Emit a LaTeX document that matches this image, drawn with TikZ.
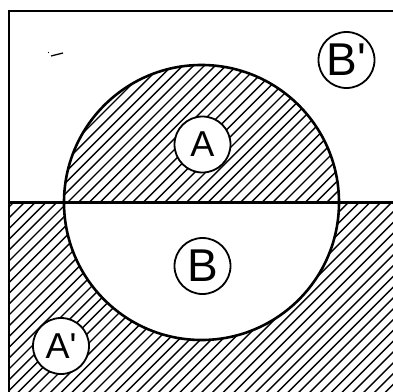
\documentclass[tikz,border=0pt]{standalone}
\usepackage{fontspec}
\newfontfamily\labfont{Liberation Sans}
\begin{document}
\begin{tikzpicture}[x=1pt,y=-1pt,
  frame/.style={line width=2.6pt},
  hatchline/.style={line width=1.4pt},
  lab/.style={circle,draw,line width=1.8pt,fill=white,minimum size=56pt,inner sep=0pt},
  smallfont/.style={font=\labfont\fontsize{36}{36}\selectfont},
  bigfont/.style={font=\labfont\fontsize{46}{46}\selectfont},
]
\useasboundingbox (0,0) rectangle (393,391);
\clip (0,0) rectangle (393,391);
\fill[white] (0,0) rectangle (393,391);
% hatched regions: upper half of circle and lower part outside circle
\begin{scope}[even odd rule]
  \clip (9,202.5) rectangle (420,420) (201.5,202.5) circle[radius=137.5pt];
  \foreach \c in {0,10.8,...,820} \draw[hatchline] (\c,0) -- (0,\c);
\end{scope}
% frame, dividing line, circle
\draw[frame] (9,420) -- (9,11) -- (420,11);
\draw[line width=3pt] (9,202.5) -- (420,202.5);
\draw[frame] (201.5,202.5) circle[radius=137.5pt];
% stray mark
\draw[line width=1.3pt] (51,56) -- (63,53);
\fill (48.5,52.5) circle[radius=0.6pt];
% labels
\node[lab,smallfont] (A) at (202.5,144.5) {A};
\node[lab,bigfont] (B) at (202.5,266) {B};
\node[lab,bigfont] (Bp) at (346.5,60) {B\textquotesingle};
\node[lab,smallfont] (Ap) at (61,346) {A\textquotesingle};
\end{tikzpicture}
\end{document}
